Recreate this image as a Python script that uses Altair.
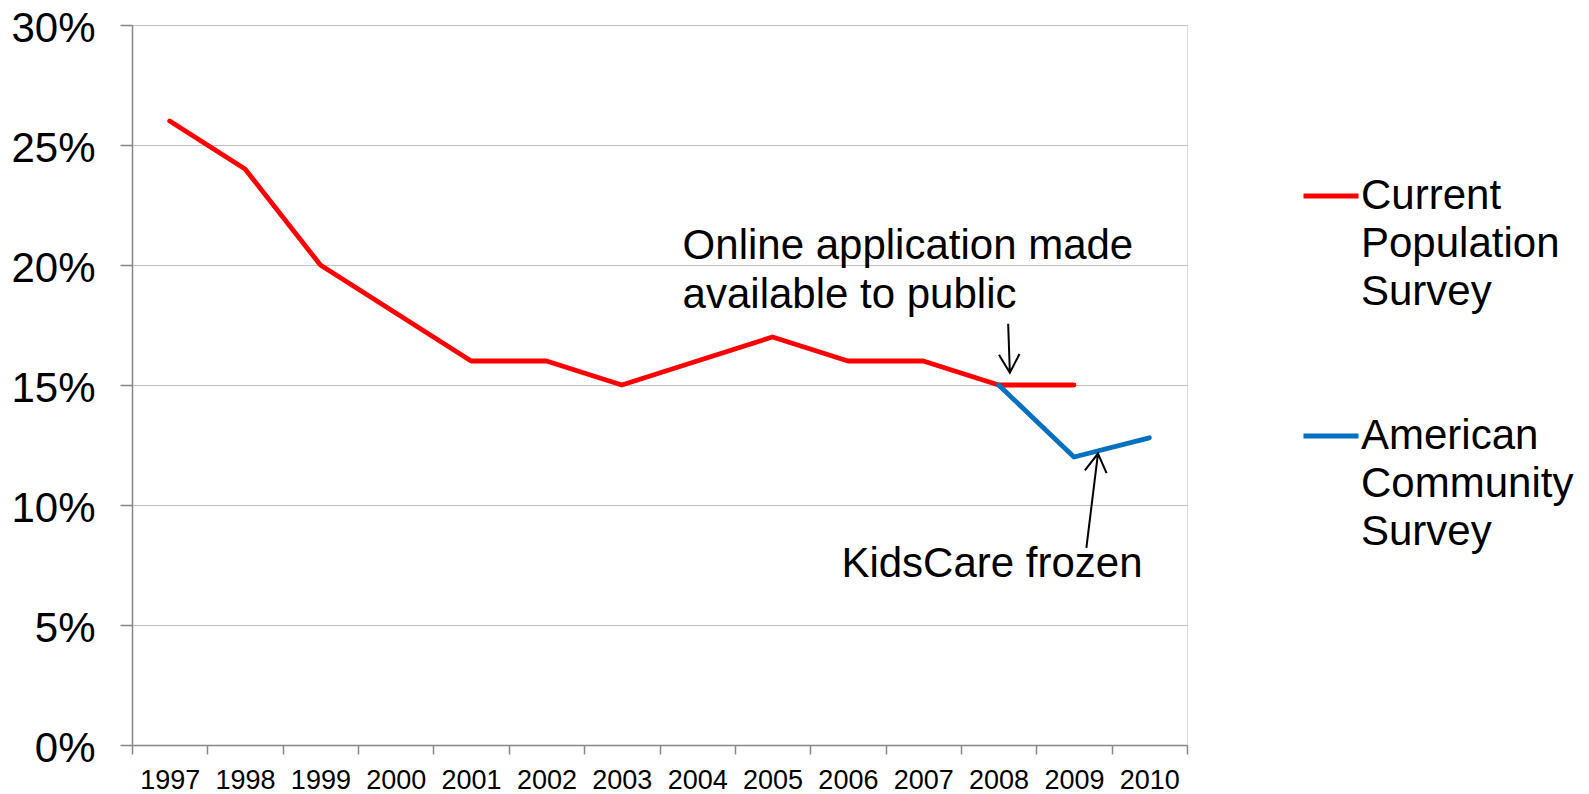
import altair as alt
import pandas as pd

# ---- data ----
years = [str(y) for y in range(1997, 2011)]
cps_years = [str(y) for y in range(1997, 2010)]
cps_values = [26, 24, 20, 18, 16, 16, 15, 16, 17, 16, 16, 15, 15]
acs_years = ["2008", "2009", "2010"]
acs_values = [15, 12, 12.8]
series_names = ["Current Population Survey", "American Community Survey"]
series_colors = ["#FF0000", "#0070C0"]
y_ticks = [0, 5, 10, 15, 20, 25, 30]

annot_online = "Online application made\navailable to public"
annot_kids = "KidsCare frozen"

rows = [{"year": y, "value": v / 100, "series": series_names[0]} for y, v in zip(cps_years, cps_values)]
rows += [{"year": y, "value": v / 100, "series": series_names[1]} for y, v in zip(acs_years, acs_values)]
df = pd.DataFrame(rows)

online_df = pd.DataFrame([{"year": "2008", "value": cps_values[11] / 100, "text": annot_online}])
kids_df = pd.DataFrame([{"year": "2009", "value": acs_values[1] / 100, "text": annot_kids}])

FONT = "Liberation Sans"

x_enc = alt.X(
    "year:O",
    scale=alt.Scale(domain=years, type="band", paddingInner=0, paddingOuter=0),
    axis=alt.Axis(
        title=None, labelAngle=0, tickBand="extent", grid=False,
        domainColor="#868686", domainWidth=1.5, tickColor="#868686", tickWidth=1.5,
        tickSize=9, labelPadding=13, labelFontSize=27, labelFont=FONT, labelColor="#000000",
    ),
)
y_enc = alt.Y(
    "value:Q",
    scale=alt.Scale(domain=[0, 0.30], nice=False, zero=True),
    axis=alt.Axis(
        title=None, values=[t / 100 for t in y_ticks], format=".0%",
        gridColor="#BFBFBF", gridWidth=1.2,
        domainColor="#868686", domainWidth=1.5, tickColor="#868686", tickWidth=1.5,
        tickSize=12, labelPadding=25, labelOffset=3, labelFontSize=42, labelFont=FONT,
        labelColor="#000000",
    ),
)

lines = alt.Chart(df).mark_line(strokeWidth=4.8, strokeCap="round", strokeJoin="round").encode(
    x=x_enc,
    y=y_enc,
    color=alt.Color(
        "series:N",
        scale=alt.Scale(domain=series_names, range=series_colors),
        legend=alt.Legend(
            title=None, orient="none", legendX=1169, legendY=141,
            symbolType="stroke", symbolSize=3025, symbolStrokeWidth=4.8,
            labelFontSize=42, labelFont=FONT, labelColor="#000000", labelLimit=0,
            labelOffset=0, labelExpr="split(datum.label + ' ', ' ')",
            labelBaseline="middle", rowPadding=45, padding=0,
        ),
    ),
    detail="series:N",
)

text_online = alt.Chart(online_df).mark_text(
    align="left", baseline="top", dx=-316, dy=-159, fontSize=42, font=FONT,
    lineHeight=49, lineBreak="\n", color="#000000",
).encode(x=alt.X("year:O"), y=alt.Y("value:Q"), text="text:N")

text_kids = alt.Chart(kids_df).mark_text(
    align="center", baseline="alphabetic", dx=-82, dy=120, fontSize=42, font=FONT,
    color="#000000",
).encode(x=alt.X("year:O"), y=alt.Y("value:Q"), text="text:N")

arrow_down = "M0,-1L0,1M-0.42,0.25L0,1L0.42,0.25"
arrow_up = "M0,1L0,-1M-0.23,-0.615L0,-1L0.23,-0.615"

arrow1 = alt.Chart(online_df).mark_point(
    shape=arrow_down, size=2401, angle=358, filled=False, stroke="#000000",
    strokeWidth=2, opacity=1, xOffset=10.4, yOffset=-36.8,
).encode(x=alt.X("year:O"), y=alt.Y("value:Q"))

arrow2 = alt.Chart(kids_df).mark_point(
    shape=arrow_up, size=9025, angle=7, filled=False, stroke="#000000",
    strokeWidth=2, opacity=1, xOffset=18.2, yOffset=43.7,
).encode(x=alt.X("year:O"), y=alt.Y("value:Q"))

chart = alt.layer(lines, text_online, text_kids, arrow1, arrow2).properties(
    width=1055, height=720,
    padding={"left": 124, "top": 17, "right": 394, "bottom": 49},
    autosize=alt.AutoSizeParams(type="none"),
).configure_view(stroke=None).configure(
    background="white", style={"guide-label": {"lineHeight": 48}}
)

chart.save("out.html", embed_options={"renderer": "svg", "actions": False})
